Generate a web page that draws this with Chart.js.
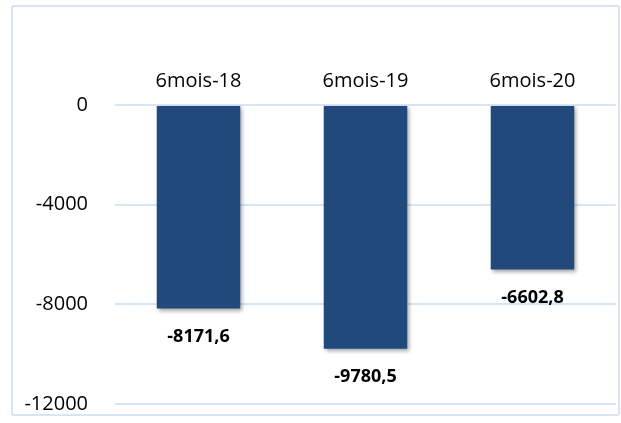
<!DOCTYPE html>
<html>
<head>
<meta charset="utf-8">
<script src="https://cdn.jsdelivr.net/npm/chart.js@4"></script>
<style>
    html, body { margin: 0; padding: 0; background: #fff; }
    #box {
        position: absolute; left: 11px; top: 5px; width: 605px; height: 407px;
        border: 2px solid #d7e4f4; border-radius: 3px; background: #fff;
    }
</style>
</head>
<body>
<div id="box"><canvas id="chart"></canvas></div>
<script>
const categories = ['6mois-18', '6mois-19', '6mois-20'];
const values = [-8171.6, -9780.5, -6602.8];
const yTicks = [-12000, -8000, -4000, 0];

const fontFamily = "'Open Sans', sans-serif";

// shadow under the bars
const barShadow = {
    id: 'barShadow',
    beforeDatasetsDraw(chart) {
        const ctx = chart.ctx;
        ctx.save();
        ctx.shadowColor = 'rgba(0,0,0,0.35)';
        ctx.shadowBlur = 4;
        ctx.shadowOffsetX = 2;
        ctx.shadowOffsetY = 2;
    },
    afterDatasetsDraw(chart) {
        chart.ctx.restore();
    }
};

// value labels below each bar
const valueLabels = {
    id: 'valueLabels',
    afterDatasetsDraw(chart) {
        const ctx = chart.ctx;
        const meta = chart.getDatasetMeta(0);
        ctx.save();
        ctx.font = "bold 18px " + fontFamily;
        ctx.fillStyle = '#000';
        ctx.textAlign = 'center';
        ctx.textBaseline = 'middle';
        meta.data.forEach((bar, i) => {
            const txt = values[i].toFixed(1).replace('.', ',');
            ctx.fillText(txt, bar.x, bar.y + 28);
        });
        ctx.restore();
    }
};

new Chart(document.getElementById('chart').getContext('2d'), {
    type: 'bar',
    data: {
        labels: categories,
        datasets: [{
            data: values,
            backgroundColor: '#22497c',
            borderWidth: 0,
            barPercentage: 0.5,
            categoryPercentage: 1
        }]
    },
    options: {
        responsive: true,
        maintainAspectRatio: false,
        animation: false,
        layout: { padding: { top: 50, right: 2, bottom: 10, left: 0 } },
        plugins: {
            legend: { display: false },
            tooltip: { enabled: false }
        },
        scales: {
            x: {
                position: 'top',
                grid: { display: false, drawTicks: false },
                border: { display: false },
                ticks: {
                    color: '#000',
                    font: { family: fontFamily, size: 20 },
                    padding: 12
                }
            },
            y: {
                min: -12000,
                max: 0,
                afterBuildTicks: s => { s.ticks = yTicks.map(v => ({ value: v })); },
                grid: { color: '#d7e4f4', lineWidth: 2, drawTicks: false },
                border: { display: false },
                ticks: {
                    color: '#000',
                    font: { family: fontFamily, size: 20 },
                    padding: 27,
                    callback: v => String(v)
                },
                afterFit: s => {
                    s.width = 102;
                    s.paddingTop = 0;
                    s.paddingBottom = 0;
                }
            }
        }
    },
    plugins: [barShadow, valueLabels]
});
</script>
</body>
</html>
